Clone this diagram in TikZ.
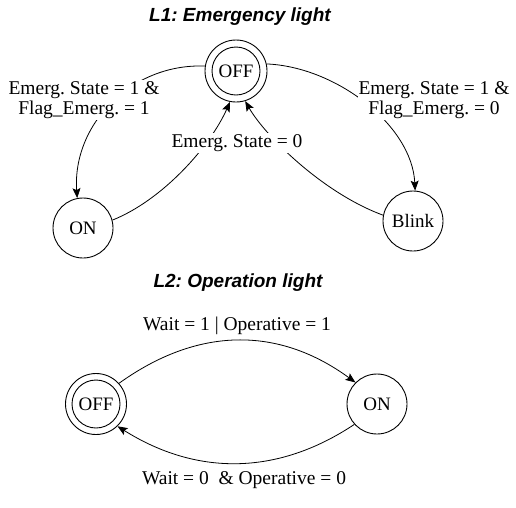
\documentclass[tikz,border=0pt]{standalone}
\usepackage{fontspec}
\setmainfont{Liberation Serif}
\newfontfamily\titlefont{Liberation Sans}
\usetikzlibrary{arrows.meta}
\frenchspacing
\begin{document}
\begin{tikzpicture}[x=1pt,y=-1pt,
  statenode/.style={circle, draw, line width=0.9pt, minimum size=60pt, inner sep=0pt, font=\fontsize{19}{21}\selectfont},
  ringline/.style={line width=0.9pt},
  lbl/.style={fill=white, inner sep=1pt, align=center, font=\fontsize{19.5}{20}\selectfont},
  ttl/.style={font=\titlefont\bfseries\itshape\fontsize{19}{21}\selectfont},
  edge/.style={line width=0.8pt, -{Stealth[length=10pt,width=8pt,inset=2pt]}}]
\fill[white] (0,0) rectangle (516,507);
\useasboundingbox (0,0) rectangle (516,507);
% L1
\node[ttl] (t1) at (240,17) {L1: Emergency light};
\node[statenode, minimum size=62pt] (off1) at (236,71) {OFF};
\draw[ringline] (off1.center) circle[radius=24pt];
\node[statenode] (on1) at (83,228) {ON};
\node[statenode] (blink) at (413,221) {Blink};
\draw[edge] (off1.171) .. controls +(-74,-3) and +(-5,-73) .. (on1.101);
\draw[edge] (on1.15) .. controls +(50,-20) and +(-20,45) .. (off1.259);
\draw[edge] (blink.169) .. controls +(-60,-22) and +(20,35) .. (off1.287);
\draw[edge] (off1.13) .. controls +(70,3) and +(-3,-65) .. (blink.86);
\node[lbl] (l1) at (84,100) {Emerg. State = 1 \&\\Flag\_Emerg. = 1};
\node[lbl] (l2) at (434,100) {Emerg. State = 1 \&\\Flag\_Emerg. = 0};
\node[lbl] (l3) at (237,143) {Emerg. State = 0};
% L2
\node[ttl] (t2) at (238,283) {L2: Operation light};
\node[statenode, minimum size=61pt] (off2) at (96,404) {OFF};
\draw[ringline] (off2.center) circle[radius=24pt];
\node[statenode] (on2) at (377,404) {ON};
\draw[edge] (off2.42) .. controls +(78,-56) and +(-78,-57) .. (on2.135);
\draw[edge] (on2.222) .. controls +(-78,52) and +(78,49) .. (off2.314);
\node[lbl] (l4) at (237,326) {Wait = 1 | Operative = 1};
\node[lbl] (l5) at (244,480) {Wait = 0 \ \& Operative = 0};
\end{tikzpicture}
\end{document}
